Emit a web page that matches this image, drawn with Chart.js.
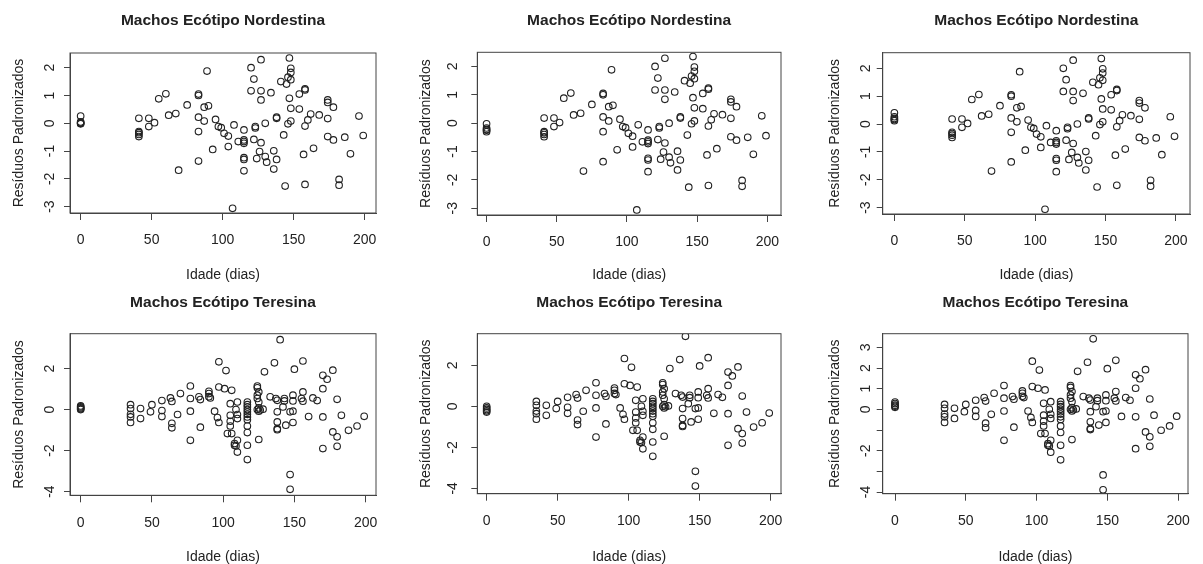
<!DOCTYPE html>
<html>
<head>
<meta charset="utf-8">
<script src="https://cdn.jsdelivr.net/npm/chart.js@4.4.1/dist/chart.umd.min.js"></script>
<style>
  html, body { margin: 0; padding: 0; background: #fff; }
  #wrap { position: relative; width: 1203px; height: 564px; overflow: hidden; }
  #wrap canvas { position: absolute; }
</style>
</head>
<body>
<div id="wrap"></div>
<script>
// Residuos padronizados x idade - machos, ecotipo Nordestina
const nordIdade = [41, 41, 41, 41, 41, 48, 48, 52, 55, 60, 62, 67, 69, 75, 83, 83, 83, 83, 83, 87, 89, 90, 87, 95, 93,
  97, 99, 101, 104, 104, 108, 107, 111, 115, 115, 115, 115, 115, 115, 115, 120, 120, 122, 122, 123, 123, 124,
  127, 127, 127, 127, 126, 130, 130, 131, 134, 136, 136, 138, 138, 138, 141, 143, 144, 145, 146, 147, 146, 147,
  148, 148, 148, 148, 148, 154, 154, 157, 158, 158, 158, 158, 160, 162, 164, 168, 174, 174, 174, 174, 178, 178,
  182, 182, 186, 190, 196, 199];
const nordResid = [0.18, -0.30, -0.34, -0.40, -0.48, 0.18, -0.12, 0.02, 0.88, 1.06, 0.29, 0.35, -1.69, 0.66, 1.05, 1.00,
  0.22, -0.30, -1.36, 0.58, 1.88, 0.63, 0.08, 0.14, -0.94, -0.12, -0.16, -0.36, -0.46, -0.84, -0.06, -3.06, -0.66,
  -0.24, -0.60, -0.66, -0.72, -1.24, -1.30, -1.71, 2.00, 1.17, 1.59, -0.58, -0.12, -0.17, -1.27, 2.29, 1.17, 0.84,
  -0.70, -1.02, 0.00, -1.20, -1.40, 1.10, -0.99, -1.65, 0.22, 0.18, -1.30, 1.50, -0.42, -2.26, 1.41, 1.66, 2.35,
  -0.02, 0.90, 0.08, 1.98, 1.83, 1.57, 0.54, 0.51, 1.05, -1.12, 1.24, 1.20, -2.20, -0.10, 0.12, 0.33, -0.90, 0.30,
  0.84, 0.75, 0.17, -0.48, -0.60, 0.58, -2.02, -2.23, -0.50, -1.10, 0.26, -0.44];

// Residuos padronizados x idade - machos, ecotipo Teresina
const terIdade = [35, 35, 35, 35, 35, 42, 42, 50, 49, 57, 57, 57, 63, 64, 64, 64, 68, 70, 77, 77, 77, 77, 83, 84, 84,
  90, 90, 90, 91, 94, 96, 97, 97, 97, 101, 102, 103, 106, 106, 105, 105, 105, 105, 108, 108, 109, 110, 110, 110,
  109, 110, 110, 117, 117, 117, 117, 117, 117, 117, 117, 117, 117, 117, 117, 124, 124, 125, 124, 124, 125, 124,
  125, 125, 126, 125, 128, 129, 133, 136, 137, 138, 138, 138, 138, 138, 140, 143, 143, 142, 144, 147, 147, 147,
  149, 149, 149, 149, 150, 155, 156, 156, 156, 160, 163, 166, 170, 170, 170, 173, 170, 177, 177, 180, 180, 180,
  183, 188, 194, 199];
const terResid = [0.24, 0.05, -0.23, -0.36, -0.63, 0.05, -0.44, 0.24, -0.11, 0.44, -0.05, -0.34, 0.57, 0.40, -0.67,
  -0.89, -0.24, 0.78, 1.15, 0.54, -0.08, -1.50, 0.62, 0.49, -0.86, 0.89, 0.78, 0.63, 0.57, -0.08, -0.39, 2.33, 1.10,
  -0.63, 1.02, 1.90, -1.17, -1.17, 0.94, 0.29, -0.28, -0.57, -0.80, -1.74, -1.66, -1.77, -1.50, -2.07, 0.37, 0.00,
  -0.24, -0.44, 0.37, 0.24, 0.13, 0.00, -0.11, -0.23, -0.36, -0.49, -0.80, -1.12, -1.74, -2.44, 0.70, 0.54, 0.37,
  1.15, 1.06, 0.86, 0.00, 0.08, -0.08, -0.02, -1.46, 0.02, 1.84, 0.62, 2.28, 0.54, 0.45, -0.11, -0.60, -0.93, -0.98,
  3.41, 0.54, 0.42, 0.13, -0.76, -0.11, -3.17, -3.89, 0.70, 0.42, -0.08, -0.63, 1.97, 0.54, 0.41, 0.86, 2.37, -0.34,
  0.57, 0.44, -0.36, 1.02, 1.67, 1.48, -1.90, 1.92, -1.09, -1.33, -1.79, 0.50, -0.28, -1.01, -0.80, -0.33];

// residuos no dia 0 (diferem entre os tres ajustes)
const nordZero = [[0.26, 0.05, 0.02, 0.00, -0.02], [-0.02, -0.17, -0.22, -0.25, -0.30], [0.40, 0.26, 0.20, 0.16, 0.12]];
const terZero = [[0.18, 0.13, 0.08, 0.04, 0.00], [0.00, -0.08, -0.15, -0.22, -0.28], [0.35, 0.28, 0.20, 0.15, 0.10]];

const xTicks = [0, 50, 100, 150, 200];
const yTicksNord = [-3, -2, -1, 0, 1, 2];
const yTicksTer = [-4, -2, 0, 2];
const yTicksTer3 = [-4, -3, -2, -1, 0, 1, 2, 3];
const yLabelsTer3 = ['-4', '', '-2', '', '0', '1', '2', '3'];

const titleNord = 'Machos Ecótipo Nordestina';
const titleTer = 'Machos Ecótipo Teresina';

const FONT = '"Liberation Sans", Arial, sans-serif';
const INK = '#222';
const W = 401, H = 282;

// box = plot area inside each 401x282 canvas
const panels = [
  { col: 0, row: 0, title: titleNord, x: nordIdade, y: nordResid, zero: nordZero[0], yTicks: yTicksNord,
    xr: [-7.5, 208], yr: [-3.23, 2.53], box: { l: 70, t: 53, r: 376, b: 213 }, tickOff: 20, titleX: 19 },
  { col: 1, row: 0, title: titleNord, x: nordIdade, y: nordResid, zero: nordZero[1], yTicks: yTicksNord,
    xr: [-6.6, 209.7], yr: [-3.24, 2.5], box: { l: 76.3, t: 52.3, r: 380, b: 215 }, tickOff: 24, titleX: 25 },
  { col: 2, row: 0, title: titleNord, x: nordIdade, y: nordResid, zero: nordZero[2], yTicks: yTicksNord,
    xr: [-8.3, 210], yr: [-3.23, 2.56], box: { l: 80.7, t: 52.7, r: 388, b: 214 }, tickOff: 17, titleX: 33 },
  { col: 0, row: 1, title: titleTer, x: terIdade, y: terResid, zero: terZero[0], yTicks: yTicksTer,
    xr: [-7.5, 207.3], yr: [-4.18, 3.7], box: { l: 70, t: 51.7, r: 376, b: 213.3 }, tickOff: 20, titleX: 19 },
  { col: 1, row: 1, title: titleTer, x: terIdade, y: terResid, zero: terZero[1], yTicks: yTicksTer,
    xr: [-6.6, 207.3], yr: [-4.26, 3.54], box: { l: 76.3, t: 51.7, r: 380, b: 211.7 }, tickOff: 24, titleX: 25 },
  { col: 2, row: 1, title: titleTer, x: terIdade, y: terResid, zero: terZero[2], yTicks: yTicksTer3,
    yLabels: yLabelsTer3, xr: [-8.7, 207], yr: [-4.08, 3.66], box: { l: 80.7, t: 51.7, r: 386, b: 211.7 },
    tickOff: 17, titleX: 33 }
];

// rotated y tick labels (R style) + frame around the plot
const rPlotPlugin = {
  id: 'rPlot',
  afterDraw(chart, args, opts) {
    const { ctx, chartArea: a, scales: { y } } = chart;
    ctx.save();
    ctx.strokeStyle = '#444';
    ctx.lineWidth = 1;
    ctx.strokeRect(a.left, a.top, a.right - a.left, a.bottom - a.top);
    ctx.font = '14px ' + FONT;
    ctx.fillStyle = INK;
    ctx.textAlign = 'center';
    ctx.textBaseline = 'middle';
    y.ticks.forEach((t, i) => {
      const lbl = opts.labels ? opts.labels[i] : String(t.value);
      if (!lbl) return;
      ctx.save();
      ctx.translate(a.left - opts.offset, y.getPixelForValue(t.value));
      ctx.rotate(-Math.PI / 2);
      ctx.fillText(lbl, 0, 0);
      ctx.restore();
    });
    ctx.restore();
  }
};

const wrap = document.getElementById('wrap');

panels.forEach(p => {
  const cv = document.createElement('canvas');
  cv.width = W; cv.height = H;
  cv.style.left = (p.col * W) + 'px';
  cv.style.top = (p.row * H) + 'px';
  cv.style.width = W + 'px'; cv.style.height = H + 'px';
  wrap.appendChild(cv);

  const pts = p.zero.map(v => ({ x: 0, y: v }))
    .concat(p.x.map((v, i) => ({ x: v, y: p.y[i] })));
  const b = p.box;

  new Chart(cv.getContext('2d'), {
    type: 'scatter',
    data: {
      datasets: [{
        data: pts,
        pointStyle: 'circle',
        pointRadius: 3.3,
        pointHoverRadius: 3.3,
        borderWidth: 1.1,
        borderColor: '#222',
        backgroundColor: 'rgba(0,0,0,0)'
      }]
    },
    options: {
      responsive: false,
      animation: false,
      events: [],
      layout: { padding: { left: 0, top: 0, right: W - b.r, bottom: 0 } },
      plugins: {
        legend: { display: false },
        tooltip: { enabled: false },
        title: {
          display: true,
          text: p.title,
          fullSize: false,
          color: INK,
          font: { family: FONT, size: 15.5, weight: 'bold', lineHeight: 1.2 },
          padding: { top: 20.5 - 9.3, bottom: b.t - 29.8 }
        },
        rPlot: { offset: p.tickOff, labels: p.yLabels }
      },
      scales: {
        x: {
          type: 'linear',
          min: p.xr[0], max: p.xr[1],
          afterBuildTicks: s => { s.ticks = xTicks.map(v => ({ value: v })); },
          afterFit: s => { s.height = H - b.b; },
          border: { display: true, color: '#444' },
          grid: { drawOnChartArea: false, drawTicks: true, tickLength: 7, tickColor: '#444' },
          ticks: { color: INK, font: { family: FONT, size: 14 }, padding: 12, maxRotation: 0, autoSkip: false },
          title: { display: true, text: 'Idade (dias)', color: INK, font: { family: FONT, size: 14 },
                   padding: { top: 0, bottom: -1.5 } }
        },
        y: {
          type: 'linear',
          min: p.yr[0], max: p.yr[1],
          afterBuildTicks: s => { s.ticks = p.yTicks.map(v => ({ value: v })); },
          afterFit: s => { s.width = b.l; },
          border: { display: true, color: '#444' },
          grid: { drawOnChartArea: false, drawTicks: true, tickLength: 6, tickColor: '#444' },
          ticks: { display: false },
          title: { display: true, text: 'Resíduos Padronizados', color: INK, font: { family: FONT, size: 14 },
                   padding: { top: p.titleX - 8.4, bottom: 0 } }
        }
      }
    },
    plugins: [rPlotPlugin]
  });
});
</script>
</body>
</html>
